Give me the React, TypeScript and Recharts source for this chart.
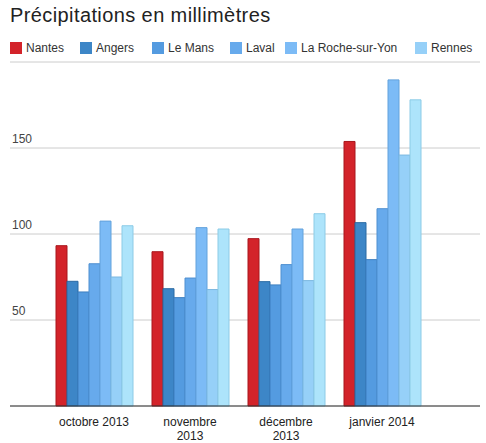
import { BarChart, Bar, XAxis, YAxis, CartesianGrid } from 'recharts';

const months = ['octobre 2013', 'novembre\n2013', 'décembre\n2013', 'janvier 2014'];

const nantes = [93.2, 89.7, 97.3, 153.8];
const angers = [72.5, 68.2, 72.3, 106.6];
const leMans = [66.3, 63.0, 70.4, 85.1];
const laval = [82.7, 74.4, 82.2, 114.7];
const laRoche = [107.5, 103.7, 102.9, 189.6];
const rennes = [75.0, 67.7, 72.9, 145.9];
const serie7 = [104.8, 102.9, 111.8, 178.0];

const yTicks = [50, 100, 150];

const SERIES = [
  { key: 'nantes', name: 'Nantes', values: nantes, color: '#d3232a', stroke: '#a8161c', legend: 10 },
  { key: 'angers', name: 'Angers', values: angers, color: '#3d86c7', stroke: '#2b6aa3', legend: 80 },
  { key: 'leMans', name: 'Le Mans', values: leMans, color: '#549be0', stroke: '#3d7fc0', legend: 152 },
  { key: 'laval', name: 'Laval', values: laval, color: '#67aaec', stroke: '#4f8fd0', legend: 230 },
  { key: 'laRoche', name: 'La Roche-sur-Yon', values: laRoche, color: '#7cbbf6', stroke: '#62a2dc', legend: 285 },
  { key: 'rennes', name: 'Rennes', values: rennes, color: '#96d0f8', stroke: '#7cb8e0', legend: 415 },
  { key: 'serie7', name: 'Série 7', values: serie7, color: '#ade4fb', stroke: '#8ccbe6', legend: -1 },
];

const data = months.map((m, i) => {
  const row: any = { month: m };
  SERIES.forEach((s) => {
    row[s.key] = s.values[i];
  });
  return row;
});

const FONT = '"Liberation Sans", Arial, sans-serif';

const YTick = ({ y, payload }: any) => (
  <text x={12} y={y - 5} textAnchor="start" fontSize={12} fill="#444" fontFamily={FONT}>
    {payload.value}
  </text>
);

const XTick = ({ x, y, payload }: any) => {
  const lines = String(payload.value).split('\n');
  return (
    <text x={x} y={y + 12} textAnchor="middle" fontSize={12} fill="#222" fontFamily={FONT}>
      {lines.map((l, i) => (
        <tspan key={i} x={x} dy={i === 0 ? 0 : 14}>
          {l}
        </tspan>
      ))}
    </text>
  );
};

export default function App() {
  return (
    <div style={{ position: 'absolute', left: 0, top: 0, width: 486, height: 443, background: '#fff', fontFamily: FONT }}>
      <div style={{ position: 'absolute', left: 10, top: 4, fontSize: 20, letterSpacing: 0.4, color: '#222', whiteSpace: 'nowrap' }}>
        Précipitations en millimètres
      </div>
      {SERIES.filter((s) => s.legend >= 0).map((s) => (
        <div
          key={s.key}
          style={{ position: 'absolute', left: s.legend, top: 41, fontSize: 12, color: '#333', whiteSpace: 'nowrap', display: 'flex', alignItems: 'center' }}
        >
          <span style={{ display: 'inline-block', width: 12, height: 12, background: s.color, marginRight: 4 }} />
          {s.name}
        </div>
      ))}
      <BarChart
        width={486}
        height={443}
        data={data}
        margin={{ top: 62, right: 6, left: 0, bottom: 7 }}
        barSize={11}
        barGap={0}
      >
        <CartesianGrid vertical={false} stroke="#cccccc" />
        <XAxis
          dataKey="month"
          height={30}
          axisLine={{ stroke: '#333' }}
          tickLine={false}
          tick={<XTick />}
          interval={0}
          padding={{ left: 36, right: 50 }}
        />
        <YAxis
          width={10}
          domain={[0, 200]}
          ticks={yTicks}
          axisLine={false}
          tickLine={false}
          tick={<YTick />}
        />
        {SERIES.map((s) => (
          <Bar
            key={s.key}
            dataKey={s.key}
            name={s.name}
            fill={s.color}
            stroke={s.stroke}
            strokeWidth={1}
            isAnimationActive={false}
          />
        ))}
      </BarChart>
    </div>
  );
}
